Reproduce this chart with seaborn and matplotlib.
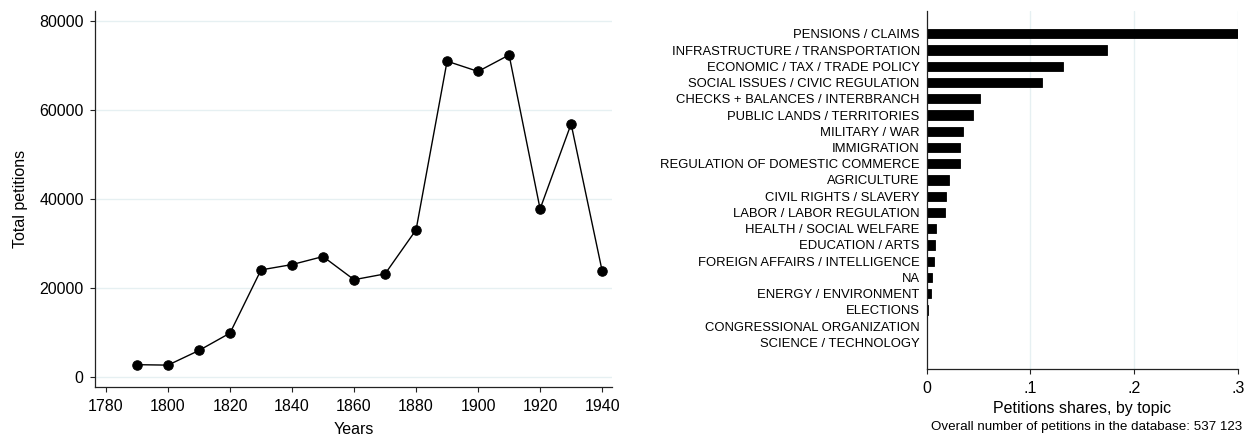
"""Petitions over time and petition shares by topic, two-panel figure."""

import matplotlib.pyplot as plt
import seaborn as sns

# Left panel: total petitions per decade
years = [1790, 1800, 1810, 1820, 1830, 1840, 1850, 1860,
         1870, 1880, 1890, 1900, 1910, 1920, 1930, 1940]
petitions = [2700, 2600, 5900, 9800, 24000, 25200, 27000, 21800,
             23100, 33000, 70900, 68600, 72300, 37700, 56800, 23800]

# Right panel: share of petitions by topic
topics = [
    "PENSIONS / CLAIMS",
    "INFRASTRUCTURE / TRANSPORTATION",
    "ECONOMIC / TAX / TRADE POLICY",
    "SOCIAL ISSUES / CIVIC REGULATION",
    "CHECKS + BALANCES / INTERBRANCH",
    "PUBLIC LANDS / TERRITORIES",
    "MILITARY / WAR",
    "IMMIGRATION",
    "REGULATION OF DOMESTIC COMMERCE",
    "AGRICULTURE",
    "CIVIL RIGHTS / SLAVERY",
    "LABOR / LABOR REGULATION",
    "HEALTH / SOCIAL WELFARE",
    "EDUCATION / ARTS",
    "FOREIGN AFFAIRS / INTELLIGENCE",
    "NA",
    "ENERGY / ENVIRONMENT",
    "ELECTIONS",
    "CONGRESSIONAL ORGANIZATION",
    "SCIENCE / TECHNOLOGY",
]
shares = [0.300, 0.1735, 0.1314, 0.1111, 0.0515, 0.0448, 0.0347, 0.0325,
          0.0321, 0.0213, 0.0187, 0.0179, 0.0093, 0.0078, 0.0067, 0.0049,
          0.0041, 0.0015, 0.0004, 0.0003]

y_ticks = [0, 20000, 40000, 60000, 80000]
x_ticks = [1780, 1800, 1820, 1840, 1860, 1880, 1900, 1920, 1940]
share_ticks = [0, 0.1, 0.2, 0.3]
share_labels = ["0", ".1", ".2", ".3"]

total_note = "Overall number of petitions in the database: 537 123"

GRID = "#e6f0f2"
SPINE = "#222222"


def style_axes(ax):
    for side in ["top", "right"]:
        ax.spines[side].set_visible(False)
    for side in ["left", "bottom"]:
        ax.spines[side].set_color(SPINE)
        ax.spines[side].set_linewidth(0.9)
    ax.tick_params(bottom=True, left=True, colors="black", labelsize=11.5,
                   length=3.5, width=0.8, color=SPINE, pad=5)


def main():
    sns.set_theme(style="white")
    plt.rcParams["font.family"] = ["Liberation Sans", "DejaVu Sans"]
    plt.rcParams["text.color"] = "black"
    plt.rcParams["axes.labelcolor"] = "black"

    fig = plt.figure(figsize=(12.46, 4.42), dpi=100)
    ax1 = fig.add_axes([0.0766, 0.1251, 0.4146, 0.8507])
    ax2 = fig.add_axes([0.7437, 0.1652, 0.2499, 0.8088])

    # ---- left: line with dots
    sns.lineplot(x=years, y=petitions, ax=ax1, color="black", linewidth=1.0,
                 marker="o", markersize=6.8, markeredgecolor="black",
                 markerfacecolor="black")
    ax1.set_xlim(1776.6, 1943.2)
    ax1.set_ylim(-2250, 82250)
    ax1.set_xticks(x_ticks)
    ax1.set_yticks(y_ticks)
    ax1.set_yticklabels([str(v) for v in y_ticks])
    for v in y_ticks:
        ax1.axhline(v, color=GRID, linewidth=1.0, zorder=0)
    style_axes(ax1)
    ax1.set_xlabel("Years", fontsize=11.5, labelpad=6)
    ax1.set_ylabel("Total petitions", fontsize=11.5, labelpad=8)

    # ---- right: horizontal bars
    sns.barplot(x=shares, y=topics, orient="h", ax=ax2, color="black",
                width=0.56, linewidth=0.6, edgecolor="black", saturation=1)
    ax2.set_xlim(0, 0.3)
    ax2.set_ylim(20.63, -1.37)
    ax2.set_xticks(share_ticks)
    ax2.set_xticklabels(share_labels)
    for v in share_ticks[1:]:
        ax2.axvline(v, color=GRID, linewidth=1.0, zorder=0)
    style_axes(ax2)
    ax2.tick_params(axis="y", left=False, length=0, labelsize=9.4, pad=5)
    ax2.set_xlabel("Petitions shares, by topic", fontsize=11.5, labelpad=4)
    ax2.set_ylabel("")

    fig.text(1087 / 1246, 1 - 426.7 / 442, total_note, ha="center",
             va="center", fontsize=9.6)

    fig.savefig("out.png", dpi=100)


if __name__ == "__main__":
    main()
